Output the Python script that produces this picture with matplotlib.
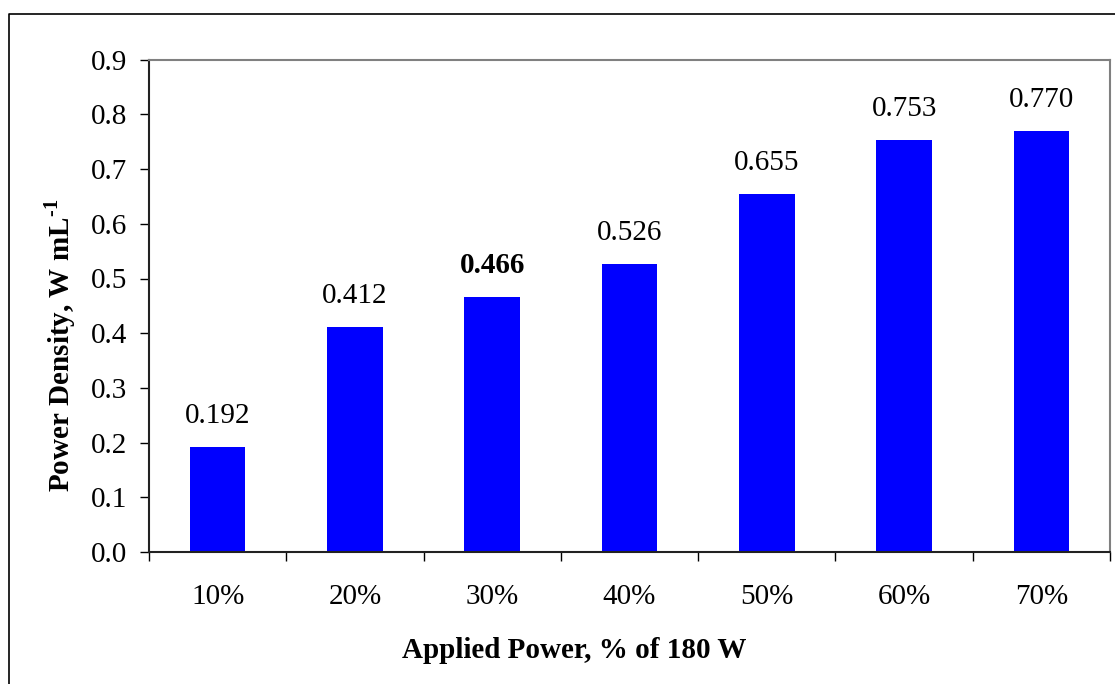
import matplotlib
matplotlib.use("Agg")
import matplotlib.pyplot as plt
from matplotlib.lines import Line2D
import numpy as np

# Data
categories = ["10%", "20%", "30%", "40%", "50%", "60%", "70%"]
power_density = [0.192, 0.412, 0.466, 0.526, 0.655, 0.753, 0.770]
label_text = ["0.192", "0.412", "0.466", "0.526", "0.655", "0.753", "0.770"]
bold_labels = ["0.466"]
y_ticks = [0.0, 0.1, 0.2, 0.3, 0.4, 0.5, 0.6, 0.7, 0.8, 0.9]

plt.rcParams["font.family"] = ["Liberation Serif", "DejaVu Serif"]
plt.rcParams["mathtext.fontset"] = "custom"
plt.rcParams["mathtext.rm"] = "Liberation Serif:bold"
plt.rcParams["mathtext.bf"] = "Liberation Serif:bold"

FS = 21
W, H = 1115, 684
fig = plt.figure(figsize=(W / 100, H / 100), dpi=100)
ax = fig.add_axes([149 / W, 1 - 552 / H, (1110 - 149) / W, (552 - 59.7) / H])

x = np.arange(len(categories))
ax.bar(x, power_density, width=0.405, color="#0000FF", edgecolor="none", zorder=2)

for xi, v, t in zip(x, power_density, label_text):
    ax.annotate(t, (xi, v), xytext=(0, 13), textcoords="offset points",
                ha="center", va="bottom", fontsize=FS,
                fontweight="bold" if t in bold_labels else "normal")

ax.set_xlim(-0.5, len(categories) - 0.5)
ax.set_ylim(0, 0.9)
ax.set_yticks(y_ticks)
ax.set_yticklabels([f"{t:.1f}" for t in y_ticks], fontsize=FS)

# category labels at centres, tick marks at category boundaries
ax.set_xticks(x)
ax.set_xticklabels(categories, fontsize=FS)
ax.set_xticks(np.arange(-0.5, len(categories), 1.0), minor=True)
ax.tick_params(axis="x", which="major", length=0, pad=23)
ax.tick_params(axis="x", which="minor", length=6.5, width=1.0, direction="out", color="black")
ax.tick_params(axis="y", which="major", length=6.5, width=1.0, direction="out", pad=9.5, color="black")

for side in ("left", "bottom"):
    ax.spines[side].set_color("#222222")
    ax.spines[side].set_linewidth(1.5)
for side in ("top", "right"):
    ax.spines[side].set_color("#808080")
    ax.spines[side].set_linewidth(1.5)

ax.set_xlabel("Applied Power, % of 180 W", fontsize=FS, fontweight="bold")
ax.set_ylabel("Power Density, W mL$^{\u2010\\mathbf{1}}$", fontsize=FS, fontweight="bold")
ax.xaxis.set_label_coords(0.443, -0.1727)
ax.yaxis.set_label_coords(-0.0739, 0.42)

# outer chart frame
fig.add_artist(Line2D([9 / W, 9 / W, 1.0], [0.0, 1 - 14 / H, 1 - 14 / H],
                      transform=fig.transFigure, color="black", linewidth=1.2))

fig.savefig("out.png", dpi=100)
